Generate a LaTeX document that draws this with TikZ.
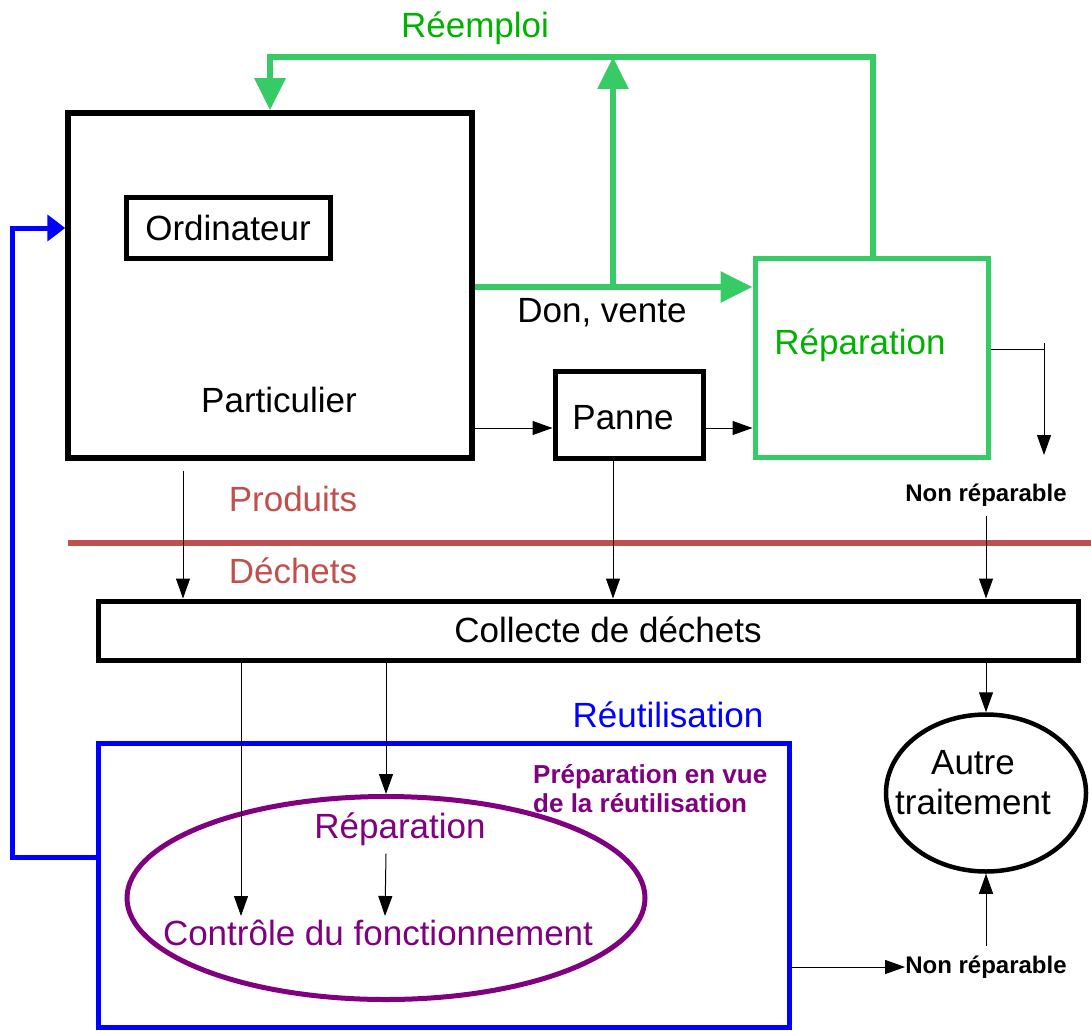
\documentclass[tikz,border=0pt]{standalone}
\usepackage{fontspec}
\setmainfont{Liberation Sans}
\usepackage{xcolor}
\usetikzlibrary{arrows.meta}
\usetikzlibrary{shapes.geometric}

\definecolor{reemploigreen}{RGB}{55,203,102}
\definecolor{reemploitext}{RGB}{0,178,0}
\definecolor{seuilred}{RGB}{192,80,77}
\definecolor{prepurple}{RGB}{128,0,128}

\tikzset{
  txt/.style={font=\fontsize{35}{40}\selectfont, inner sep=0pt},
  small/.style={font=\fontsize{24}{28}\selectfont\bfseries, inner sep=0pt},
  box/.style={draw, line width=5pt, inner sep=0pt},
  flow/.style={line width=1pt, -{Triangle[length=20pt,width=14pt]}},
  greenline/.style={reemploigreen, line width=6pt},
  greenarrow/.style={greenline, -{Triangle[length=32pt,width=30pt]}},
}

\begin{document}
\begin{tikzpicture}[x=1pt, y=-1pt]
        \useasboundingbox (0,0) rectangle (1091,1030);
        % boxes
        \node (part) [box, line width=5.5pt, minimum width=404pt, minimum height=345pt] at (270,285.5) {};
        \node (ordi) [box, minimum width=204pt, minimum height=61pt] at (228,227.5) {};
        \node (panne) [box, minimum width=148pt, minimum height=87pt] at (629,414.5) {};
        \node (rep) [box, draw=reemploigreen, minimum width=233pt, minimum height=199pt] at (871.5,357.5) {};
        \node (collecte) [box, minimum width=980pt, minimum height=59pt] at (588,630.5) {};
        \node (reuse) [box, draw=blue, minimum width=691pt, minimum height=284pt] at (443.5,885) {};
        \node (prep) [draw=prepurple, line width=5pt, ellipse, minimum width=518pt, minimum height=203pt, inner sep=0pt] at (386,898) {};
        \node (autre) [draw, line width=4.5pt, ellipse, minimum width=200pt, minimum height=157pt, inner sep=0pt] at (986,793) {};
        % texts
        \node (tordi) [txt] at (228,228) {Ordinateur};
        \node (tpart) [txt] at (279,400) {Particulier};
        \node (tdon) [txt] at (602,313) {Don, vente};
        \node (trep) [txt, text=reemploitext] at (860,345) {Réparation};
        \node (tpanne) [txt] at (623,418) {Panne};
        \node (treemploi) [txt, text=reemploitext] at (475,28) {Réemploi};
        \node (tprod) [txt, text=seuilred] at (293,499) {Produits};
        \node (tdech) [txt, text=seuilred] at (293,571) {Déchets};
        \node (tcollecte) [txt] at (608,630) {Collecte de déchets};
        \node (treuse) [txt, text=blue] at (668,715) {Réutilisation};
        \node (tautre) [txt, align=center] at (973,783) {Autre\\traitement};
        \node (tprep) [font=\fontsize{26}{29}\selectfont\bfseries, text=prepurple, align=left, anchor=north west, inner sep=0pt] at (533,764) {Préparation en vue\\de la réutilisation};
        \node (reprep) [txt, text=prepurple] at (400,829) {Réparation};
        \node (controle) [txt, text=prepurple] at (378,933) {Contrôle du fonctionnement};
        \node (nrtop) [small] at (986,495) {Non réparable};
        \node (nrbot) [small] at (986,967) {Non réparable};
        % reemploi loop
        \coordinate (fork) at (613,287);
        \draw [greenarrow] (rep.north -| 873,0) |- (part.north |- 0,57) -- (part.north);
        \draw [greenarrow] (part.east |- fork) -- (rep.west |- fork);
        \draw [greenarrow] (fork) -- (613,57);
        % reutilisation loop
        \draw [blue, line width=5pt, -{Triangle[length=18pt,width=26pt]}] (reuse.west |- 0,857) -- (12,857) |- (part.west |- tordi);
        % products / waste
        \draw [seuilred, line width=6pt] (68,543) -- (1091,543);
        % flows
        \draw [flow] (part.east |- 0,428) -- (panne.west |- 0,428);
        \draw [flow] (panne.east |- 0,428) -- (rep.west |- 0,428);
        \draw [line width=1pt] (rep.east |- 0,349) -- (1044,349);
        \coordinate (nrend) at (1044,455);
        \draw [flow] (1044,343) -- (nrend);
        \draw [flow] (nrtop.south) ++(0,10) -- (collecte.north -| nrtop);
        \draw [flow, shorten <=10pt] (part.south -| 183,0) -- (collecte.north -| 183,0);
        \draw [flow] (panne.south -| 613,0) -- (collecte.north -| 613,0);
        \draw [flow] (collecte.south -| autre) -- (autre.north);
        \draw [flow] (collecte.south -| 241,0) -- (241,916);
        \draw [flow] (collecte.south -| prep) -- (prep.north);
        \draw [flow] (reprep.south -| prep) ++(0,8) -- (385,916);
        \draw [flow] (reuse.east |- nrbot) -- (nrbot.west);
        \draw [flow, shorten <=10pt] (nrbot.north) -- (autre.south);
\end{tikzpicture}
\end{document}
